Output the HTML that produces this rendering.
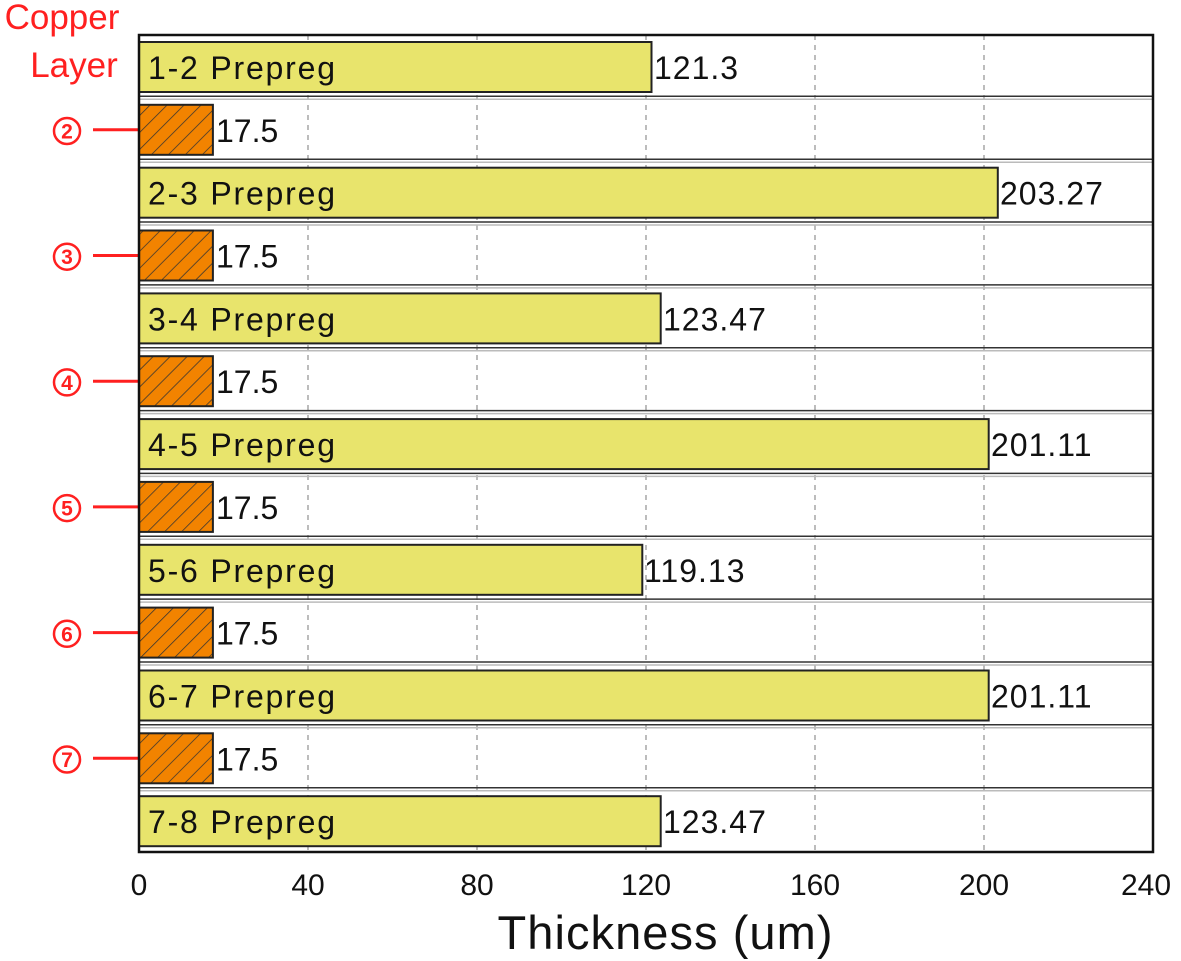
<!DOCTYPE html>
<html><head><meta charset="utf-8"><style>body{margin:0;background:#fff}svg{display:block}</style></head><body>
<svg width="1181" height="961" viewBox="0 0 1181 961" xmlns="http://www.w3.org/2000/svg" font-family="Liberation Sans, DejaVu Sans, sans-serif">
<defs>
<pattern id="h" width="12" height="12" patternUnits="userSpaceOnUse" patternTransform="rotate(45)">
<rect width="12" height="12" fill="#f28300"/><line x1="0" y1="0" x2="0" y2="12" stroke="#333" stroke-width="1.5"/>
</pattern>
</defs>
<text x="62" y="29" font-size="35" fill="#ff2020" text-anchor="middle">Copper</text>
<text x="74" y="77" font-size="35" fill="#ff2020" text-anchor="middle">Layer</text>
<g stroke="#999" stroke-dasharray="5,5" stroke-width="1.3">
<line x1="308" y1="35" x2="308" y2="852"/><line x1="477" y1="35" x2="477" y2="852"/><line x1="646" y1="35" x2="646" y2="852"/><line x1="815" y1="35" x2="815" y2="852"/><line x1="984" y1="35" x2="984" y2="852"/>
</g>
<g stroke-width="1.5">
<line x1="139" x2="1153" y1="96.3" y2="96.3" stroke="#333"/><line x1="139" x2="1153" y1="99.3" y2="99.3" stroke="#bbb"/>
<line x1="139" x2="1153" y1="159.2" y2="159.2" stroke="#333"/><line x1="139" x2="1153" y1="162.2" y2="162.2" stroke="#bbb"/>
<line x1="139" x2="1153" y1="222" y2="222" stroke="#333"/><line x1="139" x2="1153" y1="225" y2="225" stroke="#bbb"/>
<line x1="139" x2="1153" y1="284.9" y2="284.9" stroke="#333"/><line x1="139" x2="1153" y1="287.9" y2="287.9" stroke="#bbb"/>
<line x1="139" x2="1153" y1="347.7" y2="347.7" stroke="#333"/><line x1="139" x2="1153" y1="350.7" y2="350.7" stroke="#bbb"/>
<line x1="139" x2="1153" y1="410.6" y2="410.6" stroke="#333"/><line x1="139" x2="1153" y1="413.6" y2="413.6" stroke="#bbb"/>
<line x1="139" x2="1153" y1="473.4" y2="473.4" stroke="#333"/><line x1="139" x2="1153" y1="476.4" y2="476.4" stroke="#bbb"/>
<line x1="139" x2="1153" y1="536.3" y2="536.3" stroke="#333"/><line x1="139" x2="1153" y1="539.3" y2="539.3" stroke="#bbb"/>
<line x1="139" x2="1153" y1="599.1" y2="599.1" stroke="#333"/><line x1="139" x2="1153" y1="602.1" y2="602.1" stroke="#bbb"/>
<line x1="139" x2="1153" y1="662" y2="662" stroke="#333"/><line x1="139" x2="1153" y1="665" y2="665" stroke="#bbb"/>
<line x1="139" x2="1153" y1="724.8" y2="724.8" stroke="#333"/><line x1="139" x2="1153" y1="727.8" y2="727.8" stroke="#bbb"/>
<line x1="139" x2="1153" y1="787.7" y2="787.7" stroke="#333"/><line x1="139" x2="1153" y1="790.7" y2="790.7" stroke="#bbb"/>
</g>
<g fill="#e8e46c" stroke="#222" stroke-width="2">
<rect x="139" y="42" width="512.5" height="50"/>
<rect x="139" y="167.7" width="858.8" height="50"/>
<rect x="139" y="293.4" width="521.7" height="50"/>
<rect x="139" y="419.1" width="849.7" height="50"/>
<rect x="139" y="544.8" width="503.3" height="50"/>
<rect x="139" y="670.5" width="849.7" height="50"/>
<rect x="139" y="796.2" width="521.7" height="50"/>
</g>
<g fill="url(#h)" stroke="#222" stroke-width="2">
<rect x="139" y="104.8" width="73.9" height="50"/>
<rect x="139" y="230.5" width="73.9" height="50"/>
<rect x="139" y="356.2" width="73.9" height="50"/>
<rect x="139" y="481.9" width="73.9" height="50"/>
<rect x="139" y="607.6" width="73.9" height="50"/>
<rect x="139" y="733.3" width="73.9" height="50"/>
</g>
<g font-size="32" fill="#111">
<text x="148" y="79" textLength="187" lengthAdjust="spacing">1-2 Prepreg</text><text x="654" y="79" letter-spacing="1">121.3</text>
<text x="148" y="204.7" textLength="187" lengthAdjust="spacing">2-3 Prepreg</text><text x="1000" y="204.7" letter-spacing="1">203.27</text>
<text x="148" y="330.4" textLength="187" lengthAdjust="spacing">3-4 Prepreg</text><text x="663" y="330.4" letter-spacing="1">123.47</text>
<text x="148" y="456.1" textLength="187" lengthAdjust="spacing">4-5 Prepreg</text><text x="991" y="456.1" letter-spacing="1">201.11</text>
<text x="148" y="581.8" textLength="187" lengthAdjust="spacing">5-6 Prepreg</text><text x="644" y="581.8" letter-spacing="1">119.13</text>
<text x="148" y="707.5" textLength="187" lengthAdjust="spacing">6-7 Prepreg</text><text x="991" y="707.5" letter-spacing="1">201.11</text>
<text x="148" y="833.2" textLength="187" lengthAdjust="spacing">7-8 Prepreg</text><text x="663" y="833.2" letter-spacing="1">123.47</text>
<text x="216" y="141.8">17.5</text><text x="216" y="267.5">17.5</text><text x="216" y="393.2">17.5</text>
<text x="216" y="518.9">17.5</text><text x="216" y="644.6">17.5</text><text x="216" y="770.3">17.5</text>
</g>
<g stroke="#ff2020" stroke-width="3">
<line x1="93" x2="139" y1="129.8" y2="129.8"/><line x1="93" x2="139" y1="255.5" y2="255.5"/><line x1="93" x2="139" y1="381.2" y2="381.2"/>
<line x1="93" x2="139" y1="506.9" y2="506.9"/><line x1="93" x2="139" y1="632.6" y2="632.6"/><line x1="93" x2="139" y1="758.3" y2="758.3"/>
</g>
<g fill="none" stroke="#ff2020" stroke-width="2.5">
<circle cx="67" cy="131" r="13"/><circle cx="67" cy="256.7" r="13"/><circle cx="67" cy="382.4" r="13"/>
<circle cx="67" cy="508.1" r="13"/><circle cx="67" cy="633.8" r="13"/><circle cx="67" cy="759.5" r="13"/>
</g>
<g font-size="21" fill="#ff2020" text-anchor="middle" font-weight="bold">
<text x="67" y="138.5">2</text><text x="67" y="264.2">3</text><text x="67" y="389.9">4</text>
<text x="67" y="515.6">5</text><text x="67" y="641.3">6</text><text x="67" y="767">7</text>
</g>
<rect x="139" y="35" width="1014" height="817" fill="none" stroke="#111" stroke-width="2.5"/>
<g font-size="30" fill="#111" text-anchor="middle">
<text x="139" y="895">0</text><text x="308" y="895">40</text><text x="477" y="895">80</text><text x="646" y="895">120</text><text x="815" y="895">160</text><text x="984" y="895">200</text><text x="1146" y="895">240</text>
</g>
<text x="665" y="949" font-size="47" fill="#111" text-anchor="middle" textLength="335" lengthAdjust="spacing">Thickness (um)</text>
</svg>
</body></html>
